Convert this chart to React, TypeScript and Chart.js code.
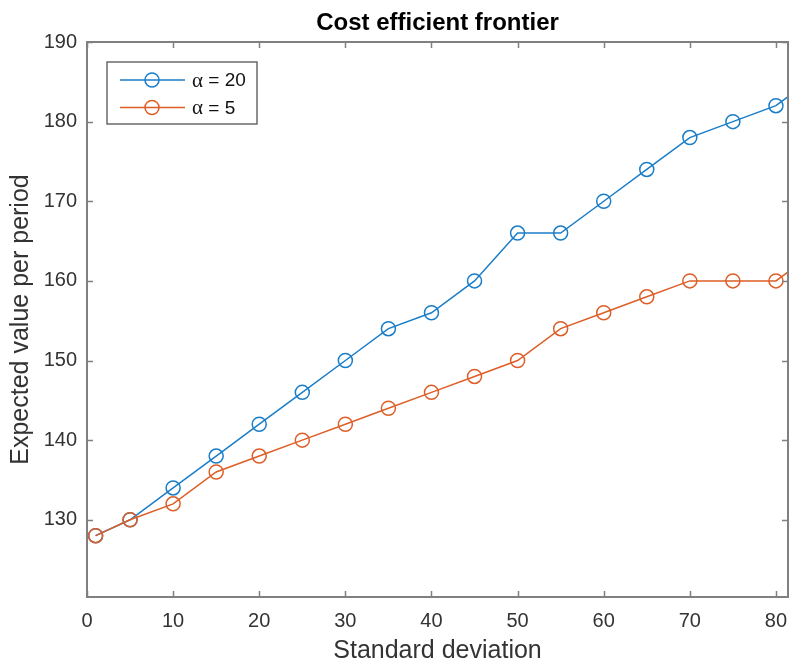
import React, { useEffect, useRef } from "react";
import { Chart, registerables } from "chart.js";

Chart.register(...registerables);

// ---- data ----
const stdDeviation = [1, 5, 10, 15, 20, 25, 30, 35, 40, 45, 50, 55, 60, 65, 70, 75, 80, 85];
const valueAlpha20 = [128, 130, 134, 138, 142, 146, 150, 154, 156, 160, 166, 166, 170, 174, 178, 180, 182, 186];
const valueAlpha5 = [128, 130, 132, 136, 138, 140, 142, 144, 146, 148, 150, 154, 156, 158, 160, 160, 160, 164];
const seriesLabels = ["α = 20", "α = 5"];
const seriesAlphaValues = ["20", "5"];
const seriesColors = ["#1A7DC8", "#DD5E27"];
const chartTitle = "Cost efficient frontier";
const xAxisTitle = "Standard deviation";
const yAxisTitle = "Expected value per period";

const SANS = "'Liberation Sans', Arial, Helvetica, sans-serif";
const AXIS_COLOR = "#808080";
const TEXT_COLOR = "#333333";

const matlabBoxPlugin = {
  id: "matlabBox",
  afterDraw(chart: any) {
    const { ctx, chartArea: a, scales } = chart;
    const xs = scales.x;
    const ys = scales.y;
    const tl = 6;
    ctx.save();
    ctx.strokeStyle = AXIS_COLOR;
    ctx.lineWidth = 1.5;
    ctx.beginPath();
    xs.ticks.forEach((t: any) => {
      const px = Math.round(xs.getPixelForValue(t.value)) + 0.5;
      ctx.moveTo(px, a.bottom);
      ctx.lineTo(px, a.bottom - tl);
      ctx.moveTo(px, a.top);
      ctx.lineTo(px, a.top + tl);
    });
    ys.ticks.forEach((t: any) => {
      const py = Math.round(ys.getPixelForValue(t.value)) + 0.5;
      ctx.moveTo(a.left, py);
      ctx.lineTo(a.left + tl, py);
      ctx.moveTo(a.right, py);
      ctx.lineTo(a.right - tl, py);
    });
    ctx.stroke();
    ctx.lineWidth = 2;
    ctx.strokeRect(a.left, a.top, a.right - a.left, a.bottom - a.top);

    // legend (MATLAB style, inside the axes, top-left)
    const lx = a.left + 20;
    const ly = a.top + 20;
    const lw = 150;
    const lh = 62;
    ctx.fillStyle = "#ffffff";
    ctx.fillRect(lx, ly, lw, lh);
    ctx.strokeStyle = "#6a6a6a";
    ctx.lineWidth = 1.5;
    ctx.strokeRect(lx, ly, lw, lh);
    const rows = [ly + 18, ly + 45.5];
    chart.data.datasets.forEach((ds: any, i: number) => {
      const ry = rows[i];
      ctx.strokeStyle = ds.borderColor;
      ctx.lineWidth = 1.5;
      ctx.beginPath();
      ctx.moveTo(lx + 13, ry);
      ctx.lineTo(lx + 78, ry);
      ctx.stroke();
      ctx.beginPath();
      ctx.arc(lx + 45, ry, 7, 0, Math.PI * 2);
      ctx.stroke();
      ctx.fillStyle = "#111";
      ctx.textBaseline = "middle";
      ctx.textAlign = "left";
      ctx.font = "21px 'Liberation Serif', 'DejaVu Serif', serif";
      ctx.fillText("α", lx + 85, ry + 1);
      const aw = ctx.measureText("α").width;
      ctx.font = "19px " + SANS;
      ctx.fillText(" = " + seriesAlphaValues[i], lx + 85 + aw, ry + 1);
    });
    ctx.restore();
  },
};

export default function App() {
  const canvasRef = useRef<HTMLCanvasElement | null>(null);

  useEffect(() => {
    if (!canvasRef.current) return;
    const chart = new Chart(canvasRef.current, {
      type: "line",
      data: {
        datasets: [
          {
            label: seriesLabels[0],
            data: stdDeviation.map((x, i) => ({ x, y: valueAlpha20[i] })),
            borderColor: seriesColors[0],
            backgroundColor: "rgba(0,0,0,0)",
            borderWidth: 1.5,
            pointRadius: 7,
            pointBorderWidth: 1.5,
            pointBackgroundColor: "rgba(0,0,0,0)",
            pointBorderColor: seriesColors[0],
            tension: 0,
            order: 2,
          },
          {
            label: seriesLabels[1],
            data: stdDeviation.map((x, i) => ({ x, y: valueAlpha5[i] })),
            borderColor: seriesColors[1],
            backgroundColor: "rgba(0,0,0,0)",
            borderWidth: 1.5,
            pointRadius: 7,
            pointBorderWidth: 1.5,
            pointBackgroundColor: "rgba(0,0,0,0)",
            pointBorderColor: seriesColors[1],
            tension: 0,
            order: 1,
          },
        ],
      },
      options: {
        animation: false,
        responsive: true,
        maintainAspectRatio: false,
        layout: { autoPadding: false, padding: { top: 0, right: 1, bottom: 0, left: 0 } },
        plugins: {
          legend: { display: false },
          tooltip: { enabled: false },
          title: {
            display: true,
            text: chartTitle,
            fullSize: false,
            color: "#000",
            font: { family: SANS, size: 24, weight: "bold", lineHeight: 1 },
            padding: { top: 11, bottom: 7 },
          },
        },
        scales: {
          x: {
            type: "linear",
            min: 0,
            max: 81.4,
            grid: { display: false, drawTicks: false },
            border: { display: false },
            ticks: {
              stepSize: 10,
              includeBounds: false,
              padding: 12,
              color: TEXT_COLOR,
              font: { family: SANS, size: 20 },
              maxRotation: 0,
            },
            title: {
              display: true,
              text: xAxisTitle,
              color: TEXT_COLOR,
              font: { family: SANS, size: 25, lineHeight: 1 },
              padding: { top: 1, bottom: 0 },
            },
            afterFit: (s: any) => {
              s.height = 67;
              s.paddingLeft = 0;
              s.paddingRight = 0;
            },
          },
          y: {
            type: "linear",
            min: 120.3,
            max: 190,
            grid: { display: false, drawTicks: false },
            border: { display: false },
            ticks: {
              stepSize: 10,
              includeBounds: false,
              padding: 10,
              color: TEXT_COLOR,
              font: { family: SANS, size: 20 },
            },
            title: {
              display: true,
              text: yAxisTitle,
              color: TEXT_COLOR,
              font: { family: SANS, size: 25, lineHeight: 1 },
              padding: { top: 8.5, bottom: 0 },
            },
            afterFit: (s: any) => {
              s.width = 87;
              s.paddingTop = 0;
              s.paddingBottom = 0;
            },
          },
        },
      },
      plugins: [matlabBoxPlugin],
    });
    return () => chart.destroy();
  }, []);

  return (
    <div style={{ position: "absolute", left: 0, top: 0, width: 789, height: 664, background: "#fff" }}>
      <canvas ref={canvasRef} />
    </div>
  );
}
